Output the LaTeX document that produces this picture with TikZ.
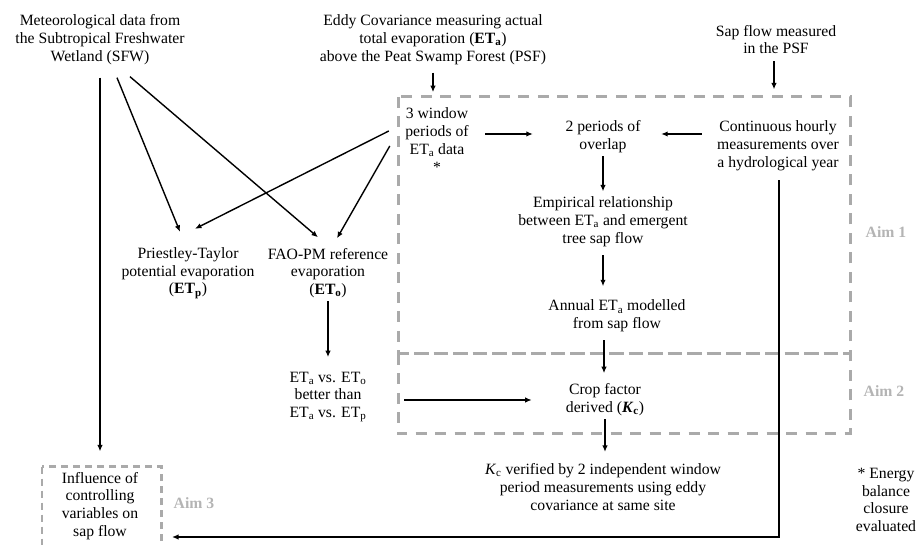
\documentclass[tikz,border=0pt]{standalone}
\usepackage{fontspec}
\setmainfont{Liberation Serif}
\usetikzlibrary{arrows.meta,calc}
\definecolor{boxgray}{RGB}{170,170,170}
\definecolor{aimgray}{RGB}{180,180,180}
\begin{document}
\begin{tikzpicture}[x=1pt,y=-1pt,
  txt/.style={align=center,inner sep=0pt,font=\fontsize{15.7}{17.8}\selectfont},
  arr/.style={-{Latex[length=6.5pt,width=5.5pt]},line width=1.4pt},
  longarr/.style={-{Latex[length=6.5pt,width=5.5pt]},line width=1.8pt},
  aimbox/.style={draw=boxgray,line width=3pt,dash pattern=on 11pt off 8.5pt},
  aimboxsmall/.style={draw=boxgray,line width=2.6pt,dash pattern=on 7.5pt off 4.5pt},
  aimlbl/.style={text=aimgray,font=\fontsize{15.7}{17.8}\selectfont\bfseries,inner sep=0pt}]
\clip (0,0) rectangle (919,545);

% group boxes
\draw[aimbox] (398,97) rectangle (850,354);
\draw[aimbox] (398,354) rectangle (850,434);
\draw[aimboxsmall] (42,466.5) rectangle (161.5,570);
\coordinate (a3r) at (161,537);

% nodes
\node[txt] (met) at (100,39.5) {Meteorological data from\\the Subtropical Freshwater\\Wetland (SFW)};
\node[txt] (eddy) at (433,39.5) {Eddy Covariance measuring actual\\total evaporation (\textbf{ET\textsubscript{a}})\\above the Peat Swamp Forest (PSF)};
\node[txt] (sap) at (776,39.5) {Sap flow measured\\in the PSF};
\node[txt] (win) at (437,140) {3 window\\periods of\\ET\textsubscript{a} data\\*};
\node[txt] (per) at (603,137) {2 periods of\\overlap};
\node[txt] (cont) at (778,146) {Continuous hourly\\measurements over\\a hydrological year};
\node[txt] (emp) at (603,222) {Empirical relationship\\between ET\textsubscript{a} and emergent\\tree sap flow};
\node[txt] (pt) at (188,273) {Priestley-Taylor\\potential evaporation\\(\textbf{ET\textsubscript{p}})};
\node[txt] (fao) at (328,273) {FAO-PM reference\\evaporation\\(\textbf{ET\textsubscript{o}})};
\node[txt] (ann) at (617,316) {Annual ET\textsubscript{a} modelled\\from sap flow};
\node[txt] (etvs) at (328,397) {ET\textsubscript{a} vs. ET\textsubscript{o}\\better than\\ET\textsubscript{a} vs. ET\textsubscript{p}};
\node[txt] (crop) at (605,400) {Crop factor\\derived (\textbf{\textit{K}\textsubscript{c}})};
\node[txt] (kc) at (603,487) {\textit{K}\textsubscript{c} verified by 2 independent window\\period measurements using eddy\\covariance at same site};
\node[txt] (infl) at (100,506) {Influence of\\controlling\\variables on\\sap flow};
\node[txt] (energy) at (886,500) {* Energy\\balance\\closure\\evaluated};
\node[aimlbl] (aim1) at (886,232) {Aim 1};
\node[aimlbl] (aim2) at (884,391) {Aim 2};
\node[aimlbl] (aim3) at (194,503) {Aim 3};

% connectors
\draw[longarr] ($(met.south)+(0,13)$) -- ($(infl.north)+(0,-20.5)$);
\draw[arr] ($(met.south)+(17,13)$) -- ($(pt.north)+(-8,-15.5)$);
\draw[arr] ($(met.south)+(30,12)$) -- ($(fao.north)+(-10,-10.5)$);
\draw[arr] ($(win.west)+(-16.4,-9)$) -- ($(pt.north)+(7,-18.5)$);
\draw[arr] ($(win.west)+(-15.4,6)$) -- ($(fao.north)+(9,-9.5)$);
\draw[arr] ($(eddy.south)+(0,8)$) -- ($(eddy.south |- win.north)+(0,-15.5)$);
\draw[arr] ($(sap.south)+(-2,7)$) -- ($(sap.south |- cont.north)+(-2,-31.5)$);
\draw[arr] ($(win.east |- per.west)+(16.4,-3)$) -- ($(per.west)+(-32.5,-3)$);
\draw[arr] ($(cont.west |- per.east)+(-15,-3)$) -- ($(per.east)+(20.5,-3)$);
\draw[arr] ($(per.south)+(0,3)$) -- ($(emp.north)+(0,-5.5)$);
\draw[arr] ($(emp.south)+(0,8)$) -- ($(emp.south |- ann.north)+(0,-13.5)$);
\draw[arr] ($(crop.north |- ann.south)+(-1,8)$) -- ($(crop.north)+(-1,-10.5)$);
\draw[arr] ($(crop.south)+(0,3)$) -- ($(crop.south |- kc.north)+(0,-11.5)$);
\draw[arr] ($(fao.south)+(0,3)$) -- ($(etvs.north)+(0,-14.5)$);
\draw[arr] ($(etvs.east |- crop.west)+(37.6,0)$) -- ($(crop.west)+(-34,0)$);
\draw[longarr] ($(cont.south)+(1,9)$) |- ($(a3r)+(11,0)$);
\end{tikzpicture}
\end{document}
